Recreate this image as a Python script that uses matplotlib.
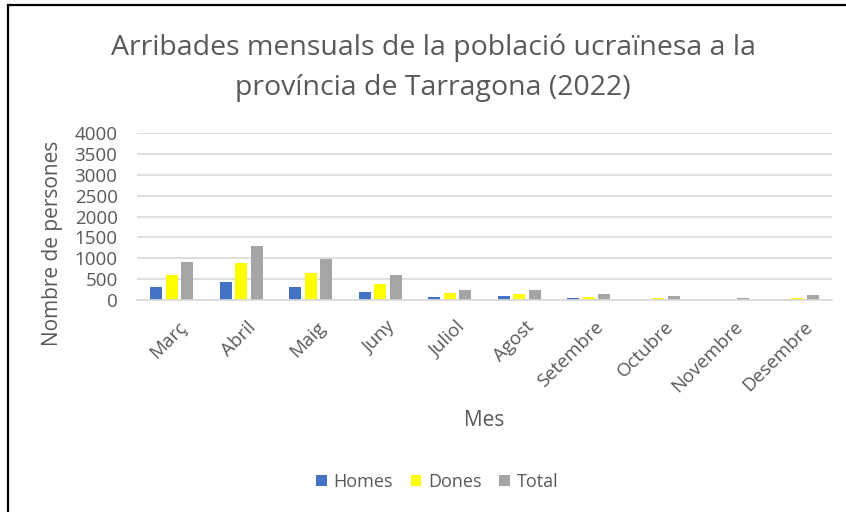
import matplotlib
matplotlib.use("Agg")
import matplotlib.pyplot as plt
import matplotlib.transforms as mtransforms
import numpy as np
from matplotlib.lines import Line2D

months = ["Març", "Abril", "Maig", "Juny", "Juliol", "Agost", "Setembre",
          "Octubre", "Novembre", "Desembre"]
homes = [300, 420, 300, 195, 80, 85, 50, 10, 5, 10]
dones = [590, 880, 645, 395, 160, 145, 75, 40, 10, 40]
total = [905, 1305, 990, 590, 245, 250, 140, 85, 50, 110]
yticks = [0, 500, 1000, 1500, 2000, 2500, 3000, 3500, 4000]

plt.rcParams['font.family'] = ['Open Sans', 'DejaVu Sans']
txt = '#595959'

W, H = 846, 512
fig = plt.figure(figsize=(W / 100, H / 100), dpi=100)
fig.patch.set_facecolor('white')

ax = fig.add_axes([137 / W, 1 - 300 / H, (832 - 137) / W, (300 - 133) / H])
x = np.arange(len(months))
step = 0.223
wid = 0.175
ax.bar(x - step, homes, wid, color='#4472C4', label='Homes', zorder=3)
ax.bar(x, dones, wid, color='#FFFF00', label='Dones', zorder=3)
ax.bar(x + step, total, wid, color='#A5A5A5', label='Total', zorder=3)

ax.set_xlim(-0.5, len(months) - 0.5)
ax.set_ylim(0, 4000)
ax.set_yticks(yticks)
ax.set_yticklabels([str(v) for v in yticks], fontsize=13.5, color=txt)
ax.set_xticks(x)
ax.set_xticklabels(months, rotation=45, ha='right', rotation_mode='anchor',
                   fontsize=13.5, color=txt)
ax.tick_params(length=0)
ax.tick_params(axis='y', pad=14)
ax.tick_params(axis='x', pad=13)
off = mtransforms.ScaledTranslation(6 / 100, 0, fig.dpi_scale_trans)
for lab in ax.get_xticklabels():
    lab.set_transform(lab.get_transform() + off)
ax.yaxis.grid(True, color='#D9D9D9', lw=1.2, zorder=0)
for s in ['top', 'right', 'left']:
    ax.spines[s].set_visible(False)
ax.spines['bottom'].set_color('#D9D9D9')
ax.spines['bottom'].set_linewidth(1.2)
ax.spines['bottom'].set_zorder(4)

fig.text(433 / W, 1 - 48 / H, "Arribades mensuals de la població ucraïnesa a la",
         ha='center', va='center', fontsize=20.5, color=txt)
fig.text(433 / W, 1 - 88 / H, "província de Tarragona (2022)",
         ha='center', va='center', fontsize=20.5, color=txt)
fig.text(53 / W, 1 - 243 / H, "Nombre de persones", rotation=90,
         ha='center', va='center', fontsize=15, color=txt)
fig.text(484 / W, 1 - 421 / H, "Mes", ha='center', va='center',
         fontsize=15, color=txt)

leg = fig.legend(loc='center', bbox_to_anchor=(437 / W, 1 - 482 / H), ncol=3,
                 frameon=False, fontsize=13, handlelength=0.6, handleheight=0.6,
                 handletextpad=0.35, columnspacing=1.0)
for t in leg.get_texts():
    t.set_color(txt)

fig.add_artist(Line2D([8 / W, 1], [1 - 5 / H, 1 - 5 / H], color='black', lw=1.6,
                      transform=fig.transFigure))
fig.add_artist(Line2D([8 / W, 8 / W], [0, 1 - 5 / H], color='black', lw=1.6,
                      transform=fig.transFigure))

fig.savefig('out.png', dpi=100, facecolor='white')
